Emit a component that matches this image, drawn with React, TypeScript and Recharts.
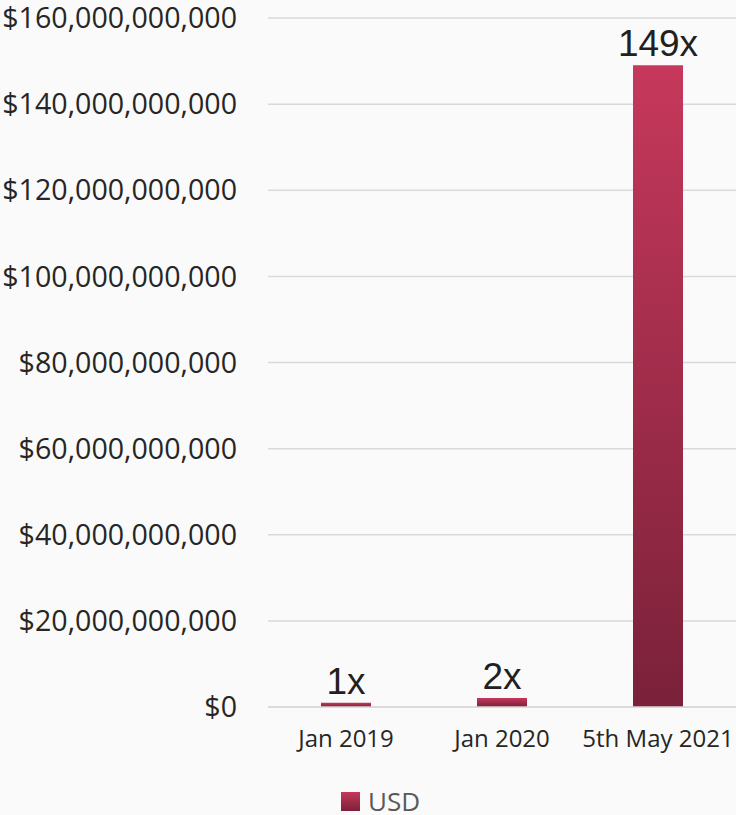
import { BarChart, Bar, XAxis, YAxis, CartesianGrid, Legend, LabelList } from "recharts";

const categories = ["Jan 2019", "Jan 2020", "5th May 2021"];
const usdValues = [1.0e9, 2.1e9, 149e9];
const multiples = ["1x", "2x", "149x"];
const yTicks = [0, 20e9, 40e9, 60e9, 80e9, 100e9, 120e9, 140e9, 160e9];

const data = categories.map((name, i) => ({ name, usd: usdValues[i], mult: multiples[i] }));

const font = "'Open Sans', sans-serif";

const fmtUsd = (v: number) => "$" + v.toLocaleString("en-US");

function UsdLegend() {
  return (
    <div style={{ display: "flex", alignItems: "center", height: 28, paddingLeft: 341, fontFamily: font }}>
      <svg width={19} height={19} style={{ marginRight: 8 }}>
        <defs>
          <linearGradient id="legendGrad" x1="0" y1="0" x2="0" y2="1">
            <stop offset="0%" stopColor="#c6385c" />
            <stop offset="100%" stopColor="#7a2139" />
          </linearGradient>
        </defs>
        <rect width={19} height={19} fill="url(#legendGrad)" />
      </svg>
      <span style={{ fontSize: 26, lineHeight: 1, color: "#595959" }}>USD</span>
    </div>
  );
}

export default function App() {
  return (
    <div style={{ position: "absolute", left: 0, top: 0, width: 736, height: 815, background: "#fafafa" }}>
      <BarChart width={736} height={815} data={data} margin={{ top: 18, right: 0, bottom: 0, left: 0 }} barSize={50}>
        <defs>
          <linearGradient id="barGrad" x1="0" y1="0" x2="0" y2="1">
            <stop offset="0%" stopColor="#c6385c" />
            <stop offset="100%" stopColor="#7a2139" />
          </linearGradient>
        </defs>
        <CartesianGrid vertical={false} stroke="#d9d9d9" strokeWidth={1.5} />
        <XAxis
          dataKey="name"
          height={80}
          axisLine={{ stroke: "#d9d9d9", strokeWidth: 1.5 }}
          tickLine={false}
          tickMargin={17}
          tick={{ fill: "#262626", fontSize: 24, fontFamily: font }}
          interval={0}
        />
        <YAxis
          width={268}
          domain={[0, 160e9]}
          ticks={yTicks}
          tickFormatter={fmtUsd}
          axisLine={false}
          tickLine={false}
          tickMargin={25}
          tick={{ fill: "#262626", fontSize: 28.6, fontFamily: font }}
        />
        <Legend verticalAlign="bottom" wrapperStyle={{ left: 0, width: 736 }} content={() => <UsdLegend />} />
        <Bar dataKey="usd" name="USD" fill="url(#barGrad)" isAnimationActive={false}>
          <LabelList
            dataKey="mult"
            position="top"
            offset={9}
            style={{ fill: "#231f20", fontSize: 37, fontFamily: "'Liberation Sans', Arial, sans-serif" }}
          />
        </Bar>
      </BarChart>
    </div>
  );
}
